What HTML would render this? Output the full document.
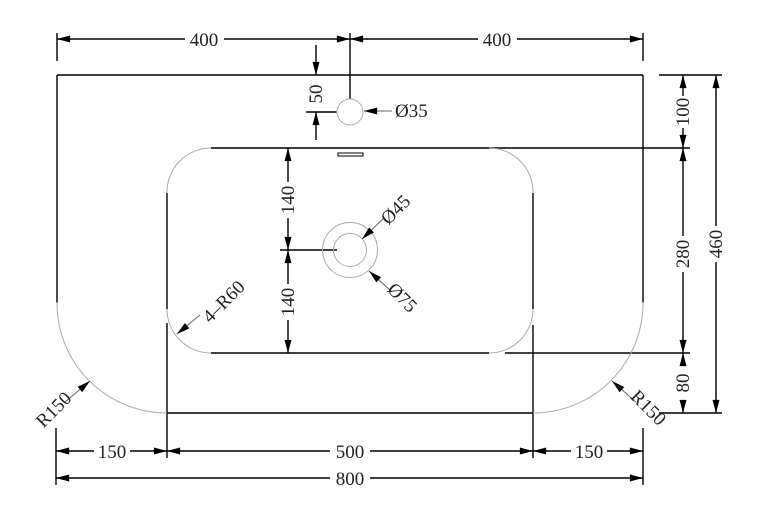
<!DOCTYPE html>
<html><head><meta charset="utf-8"><style>
html,body{margin:0;padding:0;background:#fff;}
svg{display:block;}
text{font-family:"Liberation Serif",serif;font-size:19px;fill:#222;}
</style></head><body>
<svg width="770" height="509" viewBox="0 0 770 509" xmlns="http://www.w3.org/2000/svg">
<defs>
<marker id="a" viewBox="0 0 15 8" refX="15" refY="4" markerWidth="15" markerHeight="7" markerUnits="userSpaceOnUse" orient="auto-start-reverse">
<path d="M0,0 L15,4 L0,8 z" fill="#000"/>
</marker>
</defs>
<g stroke="#000" stroke-width="1.4" fill="none">
<line x1="57" y1="75" x2="643" y2="75"/>
<line x1="57" y1="75" x2="57" y2="303"/>
<line x1="643" y1="75" x2="643" y2="303"/>
<line x1="167" y1="413" x2="533" y2="413"/>
<line x1="211" y1="148" x2="489" y2="148"/>
<line x1="211" y1="353" x2="489" y2="353"/>
<line x1="167" y1="193" x2="167" y2="309"/>
<line x1="533" y1="193" x2="533" y2="309"/>
<line x1="167" y1="323" x2="167" y2="458"/>
<line x1="533" y1="325" x2="533" y2="458"/>
<line x1="57" y1="33" x2="57" y2="61"/>
<line x1="643" y1="33" x2="643" y2="61"/>
<line x1="350" y1="33" x2="350" y2="99"/>
<line x1="56" y1="428" x2="56" y2="485"/>
<line x1="643" y1="428" x2="643" y2="485"/>
<line x1="659" y1="75" x2="722" y2="75"/>
<line x1="489" y1="148" x2="690" y2="148"/>
<line x1="505" y1="353" x2="690" y2="353"/>
<line x1="659" y1="413" x2="722" y2="413"/>
<line x1="306" y1="112" x2="337" y2="112"/>
<line x1="280" y1="250" x2="337" y2="250"/>
<line x1="57" y1="39" x2="185" y2="39" marker-start="url(#a)"/>
<line x1="224" y1="39" x2="350" y2="39" marker-end="url(#a)"/>
<line x1="350" y1="39" x2="478" y2="39" marker-start="url(#a)"/>
<line x1="517" y1="39" x2="643" y2="39" marker-end="url(#a)"/>
<line x1="316" y1="45" x2="316" y2="75" marker-end="url(#a)"/>
<line x1="316" y1="140" x2="316" y2="112" marker-end="url(#a)"/>
<line x1="288" y1="148" x2="288" y2="182" marker-start="url(#a)"/>
<line x1="288" y1="218" x2="288" y2="250" marker-end="url(#a)"/>
<line x1="288" y1="250" x2="288" y2="284" marker-start="url(#a)"/>
<line x1="288" y1="320" x2="288" y2="353" marker-end="url(#a)"/>
<line x1="683" y1="75" x2="683" y2="96" marker-start="url(#a)"/>
<line x1="683" y1="128" x2="683" y2="148" marker-end="url(#a)"/>
<line x1="683" y1="148" x2="683" y2="236" marker-start="url(#a)"/>
<line x1="683" y1="272" x2="683" y2="353" marker-end="url(#a)"/>
<line x1="683" y1="353" x2="683" y2="366" marker-start="url(#a)"/>
<line x1="683" y1="400" x2="683" y2="413" marker-end="url(#a)"/>
<line x1="716" y1="75" x2="716" y2="226" marker-start="url(#a)"/>
<line x1="716" y1="262" x2="716" y2="413" marker-end="url(#a)"/>
<line x1="56" y1="451" x2="94" y2="451" marker-start="url(#a)"/>
<line x1="130" y1="451" x2="167" y2="451" marker-end="url(#a)"/>
<line x1="167" y1="451" x2="330" y2="451" marker-start="url(#a)"/>
<line x1="370" y1="451" x2="533" y2="451" marker-end="url(#a)"/>
<line x1="533" y1="451" x2="571" y2="451" marker-start="url(#a)"/>
<line x1="607" y1="451" x2="643" y2="451" marker-end="url(#a)"/>
<line x1="56" y1="478" x2="330" y2="478" marker-start="url(#a)"/>
<line x1="370" y1="478" x2="643" y2="478" marker-end="url(#a)"/>
<rect x="338" y="153" width="25" height="3" stroke-width="1"/>
</g>
<g stroke="#aaa" stroke-width="1" fill="none">
<path d="M57,302 A110,110 0 0 0 167,413"/>
<path d="M643,302 A110,110 0 0 1 533,413"/>
<path d="M167,193 A44,44 0 0 1 211,148"/>
<path d="M489,148 A44,44 0 0 1 533,193"/>
<path d="M167,309 A44,44 0 0 0 211,353"/>
<path d="M533,309 A44,44 0 0 1 489,353"/>
<circle cx="350" cy="112" r="13"/>
<circle cx="350" cy="250" r="16.5"/>
<circle cx="350" cy="250" r="27.5"/>
</g>
<g stroke="#666" stroke-width="1" fill="none">
<line x1="392" y1="111" x2="364" y2="111" marker-end="url(#a)"/>
<line x1="384" y1="218" x2="362" y2="239" marker-end="url(#a)"/>
<line x1="392" y1="292" x2="369" y2="271" marker-end="url(#a)"/>
<line x1="200" y1="315" x2="177" y2="334" marker-end="url(#a)"/>
<line x1="65" y1="402" x2="90" y2="381" marker-end="url(#a)"/>
<line x1="636" y1="402" x2="612" y2="381" marker-end="url(#a)"/>
</g>
<text x="204" y="46" text-anchor="middle">400</text>
<text x="497" y="46" text-anchor="middle">400</text>
<text x="112" y="458" text-anchor="middle">150</text>
<text x="350" y="458" text-anchor="middle">500</text>
<text x="589" y="458" text-anchor="middle">150</text>
<text x="350" y="485" text-anchor="middle">800</text>
<text x="395" y="117">Ø35</text>
<text transform="translate(322,94) rotate(-90)" text-anchor="middle">50</text>
<text transform="translate(294,200) rotate(-90)" text-anchor="middle">140</text>
<text transform="translate(294,302) rotate(-90)" text-anchor="middle">140</text>
<text transform="translate(689,112) rotate(-90)" text-anchor="middle">100</text>
<text transform="translate(689,254) rotate(-90)" text-anchor="middle">280</text>
<text transform="translate(689,383) rotate(-90)" text-anchor="middle">80</text>
<text transform="translate(722,244) rotate(-90)" text-anchor="middle">460</text>
<text transform="translate(400,214) rotate(-45)" text-anchor="middle">Ø45</text>
<text transform="translate(398,302) rotate(45)" text-anchor="middle">Ø75</text>
<text transform="translate(228,306) rotate(-45)" text-anchor="middle">4–R60</text>
<text transform="translate(58,414) rotate(-45)" text-anchor="middle">R150</text>
<text transform="translate(644,412) rotate(45)" text-anchor="middle">R150</text>
</svg>
</body></html>
